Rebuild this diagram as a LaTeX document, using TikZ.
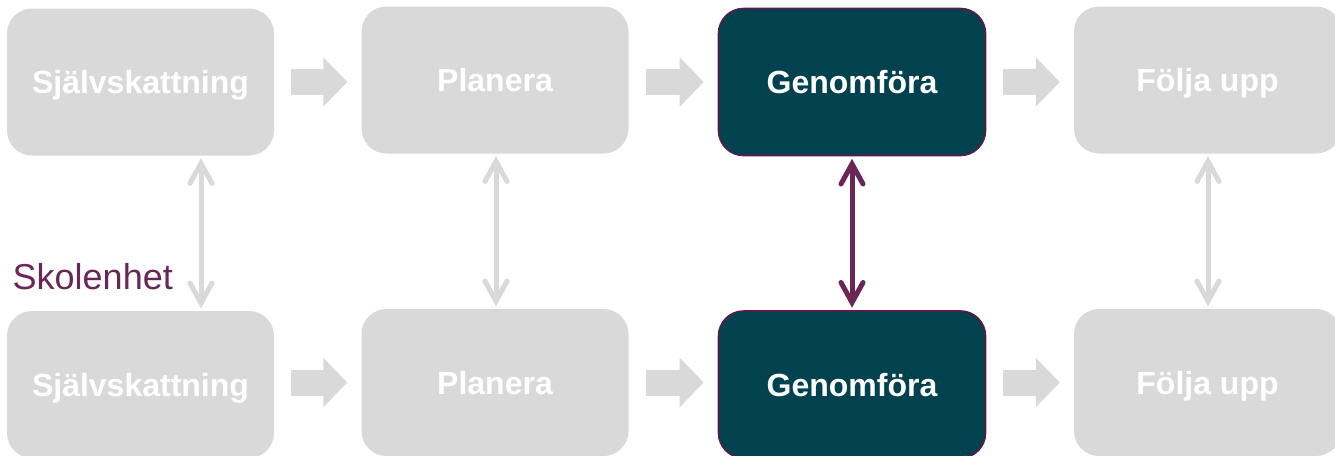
\documentclass[tikz,border=0pt]{standalone}
\usepackage{fontspec}
\setmainfont{Liberation Sans}
\usetikzlibrary{arrows.meta}
\definecolor{boxgray}{HTML}{D9D9D9}
\definecolor{tealdark}{HTML}{02424E}
\definecolor{plum}{HTML}{5C1C47}
\definecolor{plumarrow}{HTML}{6B2658}
\tikzset{
  stagebox/.style={rounded corners=25pt, minimum width=267pt, minimum height=147pt,
    inner sep=0pt, text height=23pt, text depth=0pt,
    font=\fontsize{32}{38}\selectfont\bfseries, text=white, fill=boxgray},
  activebox/.style={stagebox, fill=tealdark, draw=plum, line width=1.6pt},
  blockarrow/.style={draw=boxgray, line width=26pt,
    -{Triangle[length=24pt,width=48pt]}, shorten <=17pt, shorten >=14pt},
  linkarrow/.style={draw=boxgray, line width=5pt, line cap=round,
    {Straight Barb[length=20pt,width=22pt,line cap=round]}-{Straight Barb[length=20pt,width=22pt,line cap=round]},
    shorten <=2.5pt, shorten >=2.5pt},
  activelink/.style={linkarrow, draw=plumarrow},
  unitlabel/.style={font=\fontsize{36}{42}\selectfont, text=plumarrow, inner sep=0pt, anchor=base west}
}
\begin{document}
\begin{tikzpicture}[x=1pt,y=-1pt]
\useasboundingbox[fill=white] (0,0) rectangle (1335,455);
% top row
\node[stagebox]  (a1) at (140.5,82)   {Självskattning};
\node[stagebox]  (a2) at (495,80)     {Planera};
\node[activebox] (a3) at (852,82)     {Genomföra};
\node[stagebox]  (a4) at (1207.5,80)  {Följa upp};
% bottom row
\node[stagebox]  (b1) at (140.5,384.5) {Självskattning};
\node[stagebox]  (b2) at (495,382.5)   {Planera};
\node[activebox] (b3) at (852,384.5)   {Genomföra};
\node[stagebox]  (b4) at (1207.5,382.5){Följa upp};
% horizontal block arrows
\draw[blockarrow] (a1.east) -- (a1.east -| a2.west);
\draw[blockarrow] (a2.east |- a1.east) -- (a3.west);
\draw[blockarrow] (a3.east) -- (a3.east -| a4.west);
\draw[blockarrow] (b1.east |- b2.east) -- (b2.west);
\draw[blockarrow] (b2.east) -- (b2.east -| b3.west);
\draw[blockarrow] (b3.east |- b2.east) -- (b4.west);
% vertical links
\draw[linkarrow]  ([xshift=60.5pt]a1.south) -- ([xshift=60.5pt]b1.north);
\draw[linkarrow]  ([xshift=1pt]a2.south) -- ([xshift=1pt]b2.north);
\draw[activelink] (a3.south) -- (b3.north);
\draw[linkarrow]  ([xshift=0.5pt]a4.south) -- ([xshift=0.5pt]b4.north);
% label
\node[unitlabel] (unit) at (12.5,289) {Skolenhet};
\end{tikzpicture}
\end{document}
